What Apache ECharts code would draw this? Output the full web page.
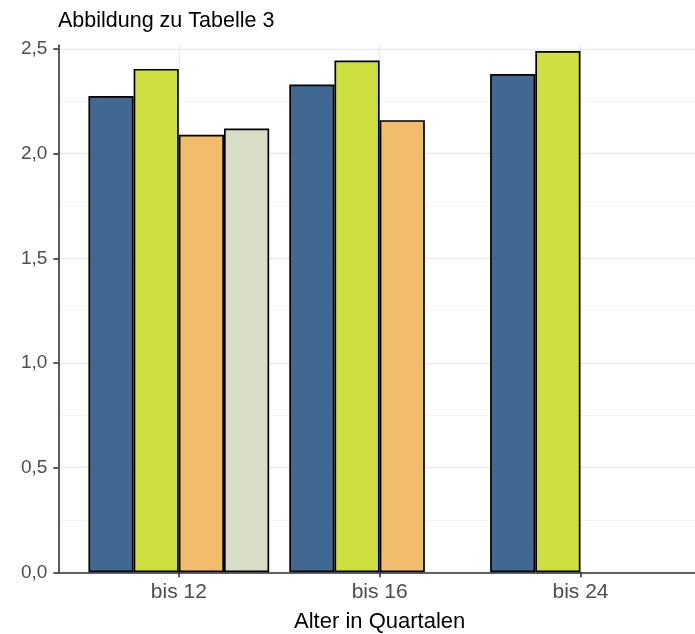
<!DOCTYPE html>
<html>
<head>
<meta charset="utf-8">
<script src="https://cdn.jsdelivr.net/npm/echarts@6.0.0/dist/echarts.min.js"></script>
<style>html,body{margin:0;padding:0;background:#fff}#c{width:695px;height:634px}</style>
</head>
<body>
<div id="c"></div>
<script>
const categories = ['bis 12', 'bis 16', 'bis 24'];
const seriesNames = ['Gruppe 1', 'Gruppe 2', 'Gruppe 3', 'Gruppe 4'];
const values1 = [2.275, 2.33, 2.38];
const values2 = [2.405, 2.445, 2.49];
const values3 = [2.09, 2.16, null];
const values4 = [2.12, null, null];
const yTicks = [0, 0.5, 1, 1.5, 2, 2.5];
const yMinorTicks = [0.25, 0.75, 1.25, 1.75, 2.25];
const yMax = 2.5177;
const colors = ['#3f6990', '#cfdf3f', '#f1bc6c', '#d8ddc6'];

const allValues = [values1, values2, values3, values4];
const catPos = categories.map((c, i) => i + 1);
const font = 'Liberation Sans, Arial, sans-serif';

const chart = echarts.init(document.getElementById('c'), null, {renderer: 'canvas'});
chart.setOption({
  animation: false,
  backgroundColor: '#fff',
  title: {
    text: 'Abbildung zu Tabelle 3',
    left: 58, top: 10, padding: 0,
    textStyle: {fontFamily: font, fontSize: 21.5, fontWeight: 'normal', color: '#000'}
  },
  grid: {left: 58.3, right: -6, top: 45.3, bottom: 61.7, containLabel: false, outerBoundsMode: 'none'},
  xAxis: {
    type: 'value', min: 0.4, max: catPos.length + 0.6,
    name: 'Alter in Quartalen', nameLocation: 'middle', nameGap: 39,
    nameTextStyle: {fontFamily: font, fontSize: 22, color: '#000'},
    axisLine: {show: true, lineStyle: {color: '#333', width: 1.6}},
    axisTick: {show: true, length: 5, lineStyle: {color: '#333', width: 1.6}, customValues: catPos},
    axisLabel: {
      customValues: catPos, margin: 9,
      fontFamily: font, fontSize: 21, color: '#4d4d4d',
      formatter: v => categories[Math.round(v) - 1] || ''
    },
    splitLine: {show: true, lineStyle: {color: '#ebebeb', width: 1.4}}
  },
  yAxis: [{
    type: 'value', min: 0, max: yMax,
    axisLine: {show: true, lineStyle: {color: '#333', width: 1.6}},
    axisTick: {show: true, length: 5, lineStyle: {color: '#333', width: 1.6}, customValues: yTicks},
    axisLabel: {
      customValues: yTicks, margin: 11,
      fontFamily: font, fontSize: 19, color: '#4d4d4d',
      formatter: v => v.toFixed(1).replace('.', ',')
    },
    splitLine: {show: true, lineStyle: {color: '#ebebeb', width: 1.4}}
  }, {
    type: 'value', min: 0, max: yMax, position: 'left',
    axisLine: {show: false},
    axisTick: {show: false, customValues: yMinorTicks},
    axisLabel: {show: false, customValues: yMinorTicks},
    splitLine: {show: true, lineStyle: {color: '#f3f3f3', width: 0.8}}
  }, {
    type: 'value', min: 0, max: yMax, position: 'right',
    axisLine: {show: false}, axisTick: {show: false}, axisLabel: {show: false}, splitLine: {show: false}
  }],
  series: allValues.map((vals, si) => ({
    name: seriesNames[si],
    type: 'bar',
    yAxisIndex: 0,
    barGap: '0%',
    barCategoryGap: '10%',
    itemStyle: {color: colors[si], borderColor: '#000', borderWidth: 1.7},
    data: vals.map((v, i) => v == null ? null : [catPos[i], v]).filter(d => d)
  })).concat([{
    type: 'line', yAxisIndex: 0, data: [], silent: true,
    markLine: {silent: true, symbol: 'none', label: {show: false},
      lineStyle: {color: '#333', width: 1.6, type: 'solid'},
      data: [{yAxis: yMax}]}
  }])
});
</script>
</body>
</html>
